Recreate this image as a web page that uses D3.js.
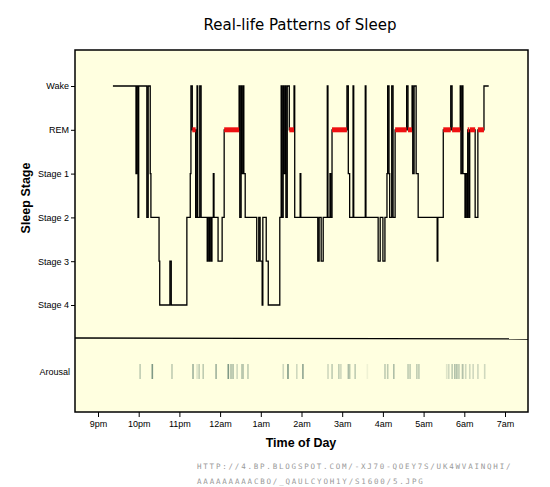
<!DOCTYPE html>
<html><head><meta charset="utf-8">
<script src="https://cdn.jsdelivr.net/npm/d3@7"></script>
<style>body{margin:0;background:#fff}</style>
</head><body>
<svg id="c" width="550" height="487"></svg>
<script>
// Stage order top to bottom
const stageLabels = ["Wake", "REM", "Stage 1", "Stage 2", "Stage 3", "Stage 4"];
// Hypnogram: minutes after 21:00 and stage at that moment
const sleepMinutes = [22,56,57,59,60,72,74,77,78,90,91,106,108,131,136,137,139,144,146,147,150,152,161,162,164,165,167,168,170,171,177,183,186,208,209,211,212,214,215,217,234,237,239,242,243,248,251,268,270,271,273,274,276,277,279,282,289,290,298,299,324,326,329,332,338,339,342,343,345,367,369,371,376,377,394,395,413,416,420,423,426,427,429,430,433,435,438,455,457,463,464,466,469,472,500,501,509,520,522,534,535,537,538,541,542,544,545,547,548,556,560,569,576];
const sleepStages = ["Wake","Stage 1","Wake","Stage 2","Wake","Stage 2","Wake","Stage 1","Stage 2","Stage 3","Stage 4","Stage 3","Stage 4","Stage 2","Stage 1","Wake","REM","Stage 2","Wake","Stage 2","Wake","Stage 2","Stage 3","Stage 2","Stage 3","Stage 2","Stage 3","Stage 2","Stage 1","Stage 2","Stage 3","Stage 2","REM","Wake","Stage 2","Wake","Stage 1","Wake","Stage 1","Stage 2","Stage 3","Stage 2","Stage 3","Stage 4","Stage 2","Stage 3","Stage 4","Stage 2","Wake","Stage 2","Wake","Stage 1","Wake","Stage 2","Wake","REM","Wake","Stage 2","Stage 1","Stage 2","Stage 3","Stage 2","Stage 3","Stage 2","Wake","Stage 2","Stage 1","Stage 2","REM","Wake","Stage 1","Stage 2","Wake","Stage 2","Wake","Stage 2","Stage 3","Stage 2","Stage 3","Stage 2","Stage 1","Wake","Stage 1","Stage 2","Wake","Stage 2","REM","Wake","REM","Wake","Stage 1","Wake","Stage 1","Stage 2","Stage 3","Stage 2","REM","Wake","REM","Wake","Stage 1","Wake","Stage 1","Stage 2","Stage 1","Stage 2","REM","Stage 2","REM","Stage 2","REM","Wake","Wake"];
// Arousal events: minutes after 21:00 and their shade strength
const arousalMinutes = [62,80,109,140,146,149,155,174,192,196,199,205,212,214,221,273,280,293,302,339,345,355,358,369,371,379,397,423,427,436,457,460,470,473,514,517,522,526,529,532,537,538,542,548,553,560,570];
const arousalStrength = [0.4,0.8,0.4,0.6,0.2,0.4,0.4,0.6,0.8,0.5,0.5,0.3,0.4,0.4,0.4,0.3,0.8,0.3,0.7,0.3,0.4,0.4,0.3,0.5,0.4,0.4,0.1,0.4,0.4,0.5,0.4,0.4,0.4,0.4,0.2,0.3,0.4,0.5,0.5,0.4,0.3,0.3,0.3,0.3,0.3,0.3,0.3];
const hourTicks = [0,60,120,180,240,300,360,420,480,540,600];
const hourLabels = ["9pm","10pm","11pm","12am","1am","2am","3am","4am","5am","6am","7am"];

const svg = d3.select("#c");
const P = {l:75, r:528, t:50, b:412, div:338};
const x = d3.scaleLinear().domain([0,600]).range([98,505]);
const y = d3.scalePoint().domain(stageLabels).range([86,305]);

svg.append("text").attr("x",300).attr("y",30).attr("text-anchor","middle")
  .attr("font-family","DejaVu Sans").attr("font-size",15).text("Real-life Patterns of Sleep");

svg.append("rect").attr("x",P.l).attr("y",P.t).attr("width",P.r-P.l).attr("height",P.b-P.t)
  .attr("fill","#ffffe0").attr("stroke","#000").attr("stroke-width",1.5);
svg.append("line").attr("x1",P.l).attr("x2",P.r).attr("y1",P.div).attr("y2",P.div+1)
  .attr("stroke","#000").attr("stroke-width",1.3);

const pts = sleepMinutes.map((m,i)=>({m, s:sleepStages[i]}));
const line = d3.line().x(d=>x(d.m)).y(d=>y(d.s)).curve(d3.curveStepAfter);
svg.append("path").datum(pts).attr("d",line).attr("fill","none").attr("stroke","#000").attr("stroke-width",1.3);

const rem = [];
pts.forEach((d,i)=>{ if(d.s==="REM" && i<pts.length-1) rem.push([d.m, pts[i+1].m]); });
svg.selectAll("line.rem").data(rem).join("line").attr("class","rem")
  .attr("x1",d=>x(d[0])).attr("x2",d=>x(d[1])).attr("y1",y("REM")).attr("y2",y("REM"))
  .attr("stroke","#ee1111").attr("stroke-width",5);

svg.selectAll("rect.ar").data(arousalMinutes).join("rect").attr("class","ar")
  .attr("x",d=>x(d)-0.75).attr("width",1.6).attr("y",364).attr("height",15)
  .attr("fill","#5f7f6f").attr("opacity",(d,i)=>arousalStrength[i]);

const ya = svg.append("g").attr("transform",`translate(${P.l},0)`)
  .call(d3.axisLeft(y).tickSize(4).tickPadding(2));
ya.select(".domain").remove();
ya.selectAll("text").attr("font-family","Liberation Sans").attr("font-size",9).attr("fill","#000");
svg.append("text").attr("x",70).attr("y",375).attr("text-anchor","end")
  .attr("font-family","Liberation Sans").attr("font-size",9).text("Arousal");

const xa = svg.append("g").attr("transform",`translate(0,${P.b})`)
  .call(d3.axisBottom(x).tickValues(hourTicks).tickFormat((d,i)=>hourLabels[i]).tickSize(5).tickPadding(4));
xa.select(".domain").remove();
xa.selectAll("text").attr("font-family","Liberation Sans").attr("font-size",9).attr("fill","#000");

svg.append("text").attr("transform","translate(30,198) rotate(-90)").attr("text-anchor","middle")
  .attr("font-family","Liberation Sans").attr("font-weight","bold").attr("font-size",12.5).text("Sleep Stage");
svg.append("text").attr("x",301).attr("y",447).attr("text-anchor","middle")
  .attr("font-family","Liberation Sans").attr("font-weight","bold").attr("font-size",12.5).text("Time of Day");

const url = ["HTTP://4.BP.BLOGSPOT.COM/-XJ70-QOEY7S/UK4WVAINQHI/","AAAAAAAAACBO/_QAULCYOH1Y/S1600/5.JPG"];
svg.selectAll("text.url").data(url).join("text").attr("class","url")
  .attr("x",197).attr("y",(d,i)=>469+i*15)
  .attr("font-family","DejaVu Sans Mono").attr("font-size",7.5).attr("fill","#999")
  .attr("textLength",(d)=>d.length*6.27).attr("lengthAdjust","spacing").text(d=>d);
</script>
</body></html>
